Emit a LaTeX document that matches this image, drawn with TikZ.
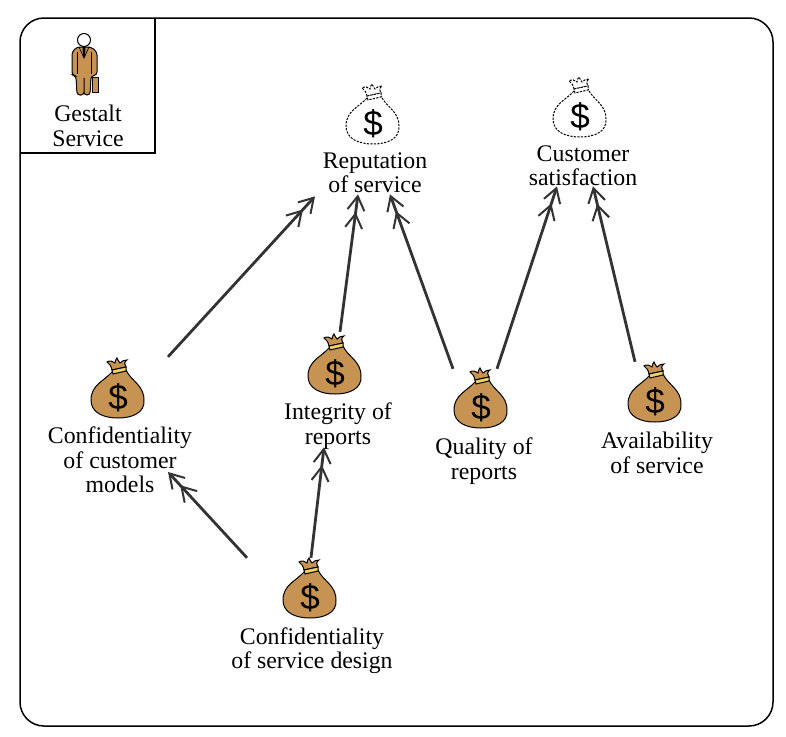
\documentclass[tikz,border=0pt]{standalone}
\usepackage{fontspec}
\setmainfont{Liberation Serif}
\setsansfont{Liberation Sans}
\usetikzlibrary{arrows.meta}
\definecolor{bagbrown}{HTML}{C69352}
\definecolor{bandyellow}{HTML}{F2D268}
\definecolor{linegrey}{HTML}{333333}
\tikzset{
  lbl/.style={align=center,inner sep=0pt,font=\fontsize{23.8}{24.3}\selectfont},
  spot/.style={inner sep=0pt,minimum width=54pt,minimum height=60pt},
  solidbag/.style={draw=black,fill=bagbrown,line width=1pt},
  ghostbag/.style={draw=black,fill=white,line width=1pt,dash pattern=on 2.2pt off 1.3pt},
  dep/.style={draw=linegrey,line width=2.8pt,
    -{Straight Barb[length=14pt,width=17pt,line width=2pt,sep=1pt]
      Straight Barb[length=14pt,width=17pt,line width=2pt]}},
  pics/moneybag/.style={code={
    \path[pic actions] (-6,-25) .. controls (-14,-16) and (-27,-12) .. (-27,3)
      .. controls (-27,16) and (-14,21) .. (0,21)
      .. controls (14,21) and (27,16) .. (26,3)
      .. controls (26,-12) and (13,-16) .. (8,-27) -- cycle;
    \path[pic actions] (-6,-27) .. controls (-7,-31) and (-8,-33) .. (-11,-35)
      .. controls (-8,-37) and (-5,-36) .. (-3,-34)
      .. controls (-3,-36) and (-2,-38) .. (-1,-39)
      .. controls (0,-37) and (1,-35) .. (2,-34)
      .. controls (4,-36) and (6,-37) .. (9,-37)
      .. controls (6,-35) and (6,-32) .. (8,-30) -- cycle;
    \path[pic actions,fill=#1] (-6,-27) -- (8,-30) -- (8,-26) -- (-5,-23) -- cycle;
    \node[inner sep=0pt,font=\sffamily\fontsize{35}{35}\selectfont] (-sign) at (0,1) {\$};
  }},
}
\begin{document}
\begin{tikzpicture}[x=1pt,y=-1pt]
  \useasboundingbox (0,0) rectangle (786,736);
  \draw[line width=1.5pt,rounded corners=24pt] (20,18) rectangle (773,726);
  \draw[line width=1.5pt] (155,18) -- (155,153) -- (20,153);
  % man in the corner
  \draw[line width=1pt,fill=bagbrown] (92,77) rectangle (98,92);
  \draw[line width=1pt,fill=bagbrown,rounded corners=3pt] (72,52) -- (77,47) -- (91,47) -- (97,52)
    -- (97,75) -- (91,76) -- (90,95) -- (84,95) -- (84,76) -- (84,95) -- (77,95) -- (76,76) -- (72,75) -- cycle;
  \draw[line width=.7pt] (77,52) -- (77,74) (91,52) -- (91,74);
  \draw[line width=.7pt] (79,47) -- (84,58) -- (89,47);
  \fill (82.5,47) -- (85.5,47) -- (85,56) -- (84,58) -- (83,56) -- cycle;
  \draw[line width=1pt,fill=white] (84,40) circle (6.5);
  \node[lbl] (gestalt) at (88,126) {Gestalt\\Service};
  % goals
  \node[spot] (repBag) at (373,123) {};
  \node[spot] (satBag) at (580,116) {};
  \pic[ghostbag] at (repBag) {moneybag=white};
  \pic[ghostbag] at (satBag) {moneybag=white};
  \node[lbl] (rep) at (375,173) {Reputation\\of service};
  \node[lbl] (sat) at (583,166) {Customer\\satisfaction};
  % assets
  \node[spot] (custBag) at (118,397) {};
  \node[spot] (integBag) at (335,373) {};
  \node[spot] (qualBag) at (481,407) {};
  \node[spot] (availBag) at (655,401) {};
  \node[spot] (designBag) at (310,597) {};
  \foreach \n in {custBag,integBag,qualBag,availBag,designBag}
    \pic[solidbag] at (\n) {moneybag=bandyellow};
  \node[lbl] (cust) at (120,460) {Confidentiality\\of customer\\models};
  \node[lbl] (integ) at (338,426) {Integrity of\\reports};
  \node[lbl] (qual) at (484,461) {Quality of\\reports};
  \node[lbl] (avail) at (657,453) {Availability\\of service};
  \node[lbl] (design) at (312,651) {Confidentiality\\of service design};
  % dependencies
  \path[dep] ([xshift=50pt,yshift=10pt]custBag.north) -- ([xshift=-60pt,yshift=-3pt]rep.south);
  \path[dep] ([xshift=5pt,yshift=11pt]integBag.north) -- ([xshift=-17pt,yshift=-1pt]rep.south);
  \path[dep] ([xshift=-28pt,yshift=8pt]qualBag.north) -- ([xshift=15pt,yshift=-1pt]rep.south);
  \path[dep] ([xshift=16pt,yshift=8pt]qualBag.north) -- ([xshift=-26pt,yshift=0pt]sat.south);
  \path[dep] ([xshift=-20pt,yshift=9pt]availBag.north) -- ([xshift=10pt,yshift=0pt]sat.south);
  \path[dep] ([xshift=-63pt,yshift=9pt]designBag.north) -- ([xshift=48pt,yshift=21pt]cust.south);
  \path[dep] ([xshift=1pt,yshift=9pt]designBag.north) -- ([xshift=-14pt,yshift=2pt]integ.south);
\end{tikzpicture}
\end{document}
